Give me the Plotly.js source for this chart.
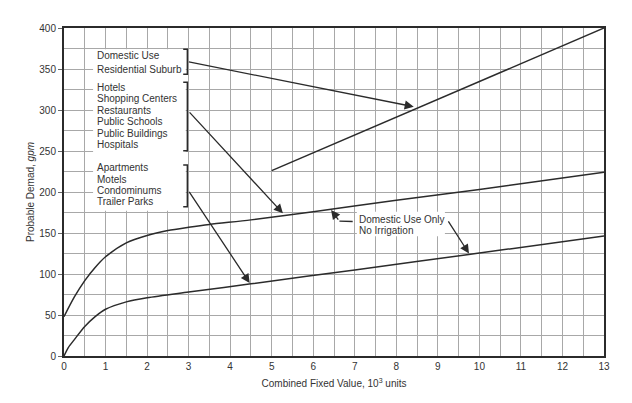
<!DOCTYPE html>
<html>
<head>
<meta charset="utf-8">
<script src="https://cdn.plot.ly/plotly-3.0.1.min.js"></script>
<style>
  html, body { margin: 0; padding: 0; background: #fff; }
  #plot { width: 632px; height: 403px; }
</style>
</head>
<body>
<div id="plot"></div>
<script>
// curves (x in 10^3 units, y in gpm)
const upperX = [0, 0.25, 0.5, 0.75, 1, 1.5, 2, 2.5, 3, 3.5, 4.5, 6, 8, 10, 13];
const upperY = [48, 72, 92, 108, 121, 138, 147, 153, 157, 160.5, 166, 176, 190, 203, 224];
const lowerX = [0, 0.1, 0.25, 0.5, 0.75, 1, 1.5, 2, 3, 4.5, 7, 10, 13];
const lowerY = [0, 10, 20, 36, 48, 57, 66, 71, 78, 88, 105, 125.5, 146.5];
const topX = [5, 13];
const topY = [226, 400];

const X_TICKS = [0, 1, 2, 3, 4, 5, 6, 7, 8, 9, 10, 11, 12, 13];
const Y_TICKS = [0, 50, 100, 150, 200, 250, 300, 350, 400];

const GROUP_SUBURB = ['Domestic Use', 'Residential Suburb'];
const GROUP_COMMERCIAL = ['Hotels', 'Shopping Centers', 'Restaurants', 'Public Schools', 'Public Buildings', 'Hospitals'];
const GROUP_MULTI = ['Apartments', 'Motels', 'Condominums', 'Trailer Parks'];
const NOTE_LINES = ['Domestic Use Only', 'No Irrigation'];

const INK = '#2b2b2b';
const GRID = '#a8a8a8';
const FONT = {family: 'Liberation Sans, Arial, sans-serif', size: 10, color: '#333'};

function curve(x, y) {
  return {x: x, y: y, type: 'scatter', mode: 'lines',
          line: {color: INK, width: 1.5, shape: 'spline', smoothing: 0.8},
          hoverinfo: 'skip', showlegend: false};
}

function textLines(lines, x, yStart, step) {
  return lines.map((t, i) => ({
    text: t, x: x, y: yStart - i * step, xref: 'x', yref: 'y',
    xanchor: 'left', yanchor: 'middle', showarrow: false, font: FONT
  }));
}

function bracket(yTop, yBot) {
  return {type: 'path', xref: 'x', yref: 'y', layer: 'above',
          path: `M 2.87,${yTop} L 2.97,${yTop} L 2.97,${yBot} L 2.87,${yBot}`,
          line: {color: INK, width: 1.5}};
}

function arrow(x0, y0, x1, y1) {
  return {x: x1, y: y1, ax: x0, ay: y0, xref: 'x', yref: 'y', axref: 'x', ayref: 'y',
          text: '', showarrow: true, arrowhead: 2, arrowsize: 1.4, arrowwidth: 1.3,
          arrowcolor: INK, standoff: 0, startstandoff: 0};
}

let annotations = []
  .concat(textLines(GROUP_SUBURB, 0.74, 367, 18.2))
  .concat(textLines(GROUP_COMMERCIAL, 0.74, 327.7, 14))
  .concat(textLines(GROUP_MULTI, 0.74, 229.6, 13.9))
  .concat(textLines(NOTE_LINES, 7.06, 166.5, 14));

annotations.push(arrow(2.97, 359, 8.42, 304));
annotations.push(arrow(2.99, 299, 5.27, 174));
annotations.push(arrow(2.99, 202, 4.47, 89));
annotations.push(arrow(6.63, 164.5, 6.43, 178));
annotations.push(arrow(9.23, 166, 9.75, 125));

const shapes = [
  {type: 'rect', xref: 'x', yref: 'y', x0: 0.7, x1: 2.93, y0: 177, y1: 374,
   fillcolor: '#fff', line: {width: 0}, layer: 'between'},
  {type: 'rect', xref: 'x', yref: 'y', x0: 7.05, x1: 9.17, y0: 146, y1: 176,
   fillcolor: '#fff', line: {width: 0}, layer: 'between'},
  bracket(374, 343.5),
  bracket(333.8, 250.4),
  bracket(232.9, 182.1),
  {type: 'line', xref: 'x', yref: 'y', x0: 6.95, y0: 164, x1: 6.63, y1: 164.5,
   line: {color: INK, width: 1.3}, layer: 'above'}
];

const layout = {
  width: 632, height: 403,
  margin: {l: 64, r: 28, t: 28, b: 47},
  paper_bgcolor: '#fff', plot_bgcolor: '#fff',
  font: FONT,
  showlegend: false,
  xaxis: {
    range: [0, 13], tickvals: X_TICKS, ticks: '', showline: true, mirror: true,
    linecolor: INK, linewidth: 2, zeroline: false, fixedrange: true,
    showgrid: true, gridcolor: GRID, gridwidth: 1,
    minor: {dtick: 0.5, showgrid: true, gridcolor: GRID, gridwidth: 1},
    tickfont: FONT,
    title: {text: 'Combined Fixed Value, 10<sup>3</sup> units', font: FONT, standoff: 9}
  },
  yaxis: {
    range: [0, 400], tickvals: Y_TICKS, ticks: 'outside', ticklen: 4, tickcolor: '#666',
    showline: true, mirror: true, linecolor: INK, linewidth: 2, zeroline: false,
    fixedrange: true, showgrid: true, gridcolor: GRID, gridwidth: 1,
    minor: {dtick: 25, showgrid: true, gridcolor: GRID, gridwidth: 1},
    tickfont: FONT,
    title: {text: 'Probable Demad, <i>gpm</i>', font: FONT, standoff: 3}
  },
  annotations: annotations,
  shapes: shapes
};

Plotly.newPlot('plot', [curve(upperX, upperY), curve(lowerX, lowerY), curve(topX, topY)],
               layout, {displayModeBar: false, staticPlot: true});
</script>
</body>
</html>
